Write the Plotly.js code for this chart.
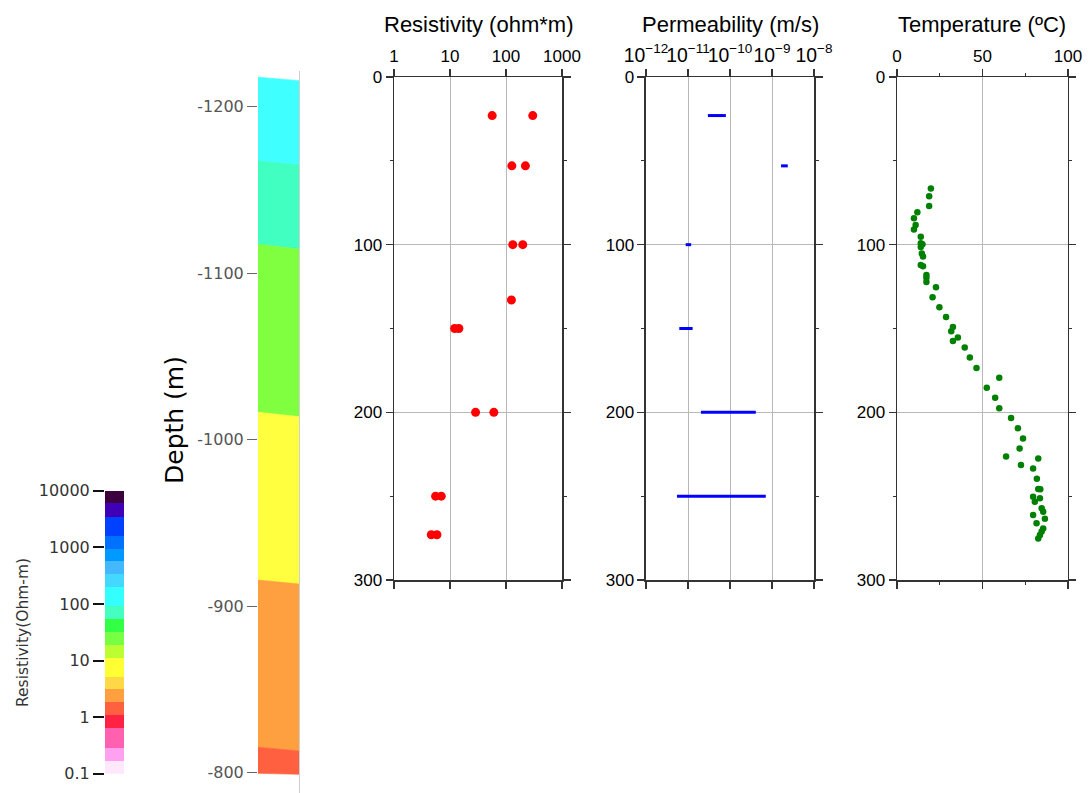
<!DOCTYPE html>
<html>
<head>
<meta charset="utf-8">
<script src="https://cdn.plot.ly/plotly-3.0.1.min.js"></script>
<style>html,body{margin:0;padding:0;background:#fff;}#chart{width:1089px;height:793px;}</style>
</head>
<body>
<div id="chart"></div>
<script>
// ---------- Data ----------
// Resistivity (ohm*m) vs depth (m)
const resDepth = [23, 23, 53, 53, 100, 100, 133, 150, 150, 200, 200, 250, 250, 273, 273];
const resValue = [56.6, 300, 127, 222, 132, 199, 125, 12.1, 14.4, 28.6, 60.6, 5.53, 6.98, 4.63, 5.84];

// Permeability (m/s) ranges vs depth (m)
const permDepth = [23, 53, 100, 150, 200, 250];
const permMin = [2.97e-11, 1.64e-9, 8.8e-12, 6.2e-12, 2.03e-11, 5.46e-12];
const permMax = [7.96e-11, 2.37e-9, 1.19e-11, 1.29e-11, 4.11e-10, 7.1e-10];

// Temperature (ºC) vs depth (m)
const tempDepth = [66.5, 71.1, 76.9, 80.7, 84.3, 88.2, 90.9, 95.3, 99.1, 99.7, 101.4, 105.2, 107.0, 112.1, 112.9,
  118.1, 119.8, 122.3, 125.4, 131.3, 137.4, 143.2, 149.1, 151.6, 155.3, 157.4, 161.4, 167.3, 173.5, 179.4,
  185.4, 191.3, 197.6, 203.4, 209.5, 215.6, 221.6, 226.4, 227.5, 231.4, 233.5, 239.6, 245.7, 245.9, 250.3,
  251.3, 253.4, 257.2, 259.3, 261.2, 263.4, 266.2, 269.3, 271.0, 273.1, 275.3];
const tempValue = [19.8, 18.8, 18.8, 11.9, 9.9, 10.9, 9.9, 13.9, 13.9, 14.9, 13.9, 14.5, 15.2, 13.9, 15.2,
  17.2, 17.2, 17.2, 22.8, 20.8, 24.8, 28.7, 32.7, 31.7, 35.6, 32.7, 39.6, 42.6, 46.5, 59.8,
  52.5, 57.4, 59.8, 66.7, 70.7, 73.7, 71.7, 63.8, 82.6, 72.5, 79.6, 81.8, 82.6, 83.8, 79.6,
  83.6, 80.6, 84.6, 85.5, 79.6, 86.5, 81.6, 85.5, 84.6, 83.6, 82.6];

// Depth column layers (elevation in m), boundary at left and right edge of the column
const layerLeft  = [-1217.7, -1167.4, -1117.4, -1016.5, -915.7, -815.3, -799.6];
const layerRight = [-1215.6, -1165.0, -1114.5, -1013.8, -913.3, -813.0, -799.0];
const layerColors = ['#40ffff', '#40ffc0', '#80ff40', '#ffff40', '#ffa040', '#ff6040'];
const depthTickVals = [-1200, -1100, -1000, -900, -800];
const depthTickText = ['-1200', '-1100', '-1000', '-900', '-800'];

// Resistivity colour scale (Ohm-m), class edges and colours
const cbEdges = [0.1, 0.169, 0.287, 0.632, 1.10, 1.82, 3.10, 5.07, 11.0, 18.45, 31.8, 55.0, 91.0,
  199.5, 338, 566, 946, 1603, 3404, 6000, 10000];
const cbColors = ['#ffe8fc', '#ffa0f0', '#ff60b0', '#ff2244', '#ff6040', '#ffa040', '#ffd845', '#ffff33',
  '#bbff33', '#77ff44', '#33ff44', '#44ffc0', '#33ffff', '#44d8ff', '#44b8ff', '#0099ff', '#0070ff',
  '#0040ff', '#4000b8', '#3d003f'];
const cbTickVals = [0.1, 1, 10, 100, 1000, 10000];
const cbTickText = ['0.1', '1', '10', '100', '1000', '10000'];

// ---------- Traces ----------
const traces = [];

traces.push({
  type: 'scatter', mode: 'markers', x: resValue, y: resDepth, xaxis: 'x', yaxis: 'y',
  marker: {color: '#ff0000', size: 9}, hoverinfo: 'skip', showlegend: false
});

const px = [], py = [];
permDepth.forEach((d, i) => { px.push(permMin[i], permMax[i], null); py.push(d, d, null); });
traces.push({
  type: 'scatter', mode: 'lines', x: px, y: py, xaxis: 'x2', yaxis: 'y2',
  line: {color: '#0000ff', width: 3}, connectgaps: false, hoverinfo: 'skip', showlegend: false
});

traces.push({
  type: 'scatter', mode: 'markers', x: tempValue, y: tempDepth, xaxis: 'x3', yaxis: 'y3',
  marker: {color: '#008000', size: 6.5}, hoverinfo: 'skip', showlegend: false
});

// colour scale bar
const cbBase = cbEdges.slice(0, -1);
const cbLen = cbBase.map((b, i) => cbEdges[i + 1] - b);
traces.push({
  type: 'bar', x: cbBase.map(() => 0), y: cbLen, base: cbBase, width: 1,
  xaxis: 'x4', yaxis: 'y4', marker: {color: cbColors, line: {width: 0}},
  hoverinfo: 'skip', showlegend: false
});

// depth column
for (let i = 0; i < layerColors.length; i++) {
  traces.push({
    type: 'scatter', mode: 'lines', fill: 'toself',
    x: [0, 1, 1, 0, 0],
    y: [layerLeft[i], layerRight[i], layerRight[i + 1], layerLeft[i + 1], layerLeft[i]],
    xaxis: 'x5', yaxis: 'y5', fillcolor: layerColors[i],
    line: {color: layerColors[i], width: 0.6}, hoverinfo: 'skip', showlegend: false
  });
}
traces.push({type: 'scatter', x: [], y: [], xaxis: 'x5', yaxis: 'y6', showlegend: false, hoverinfo: 'skip'});

// ---------- Layout ----------
const tickFont = {family: 'Liberation Sans, Arial, sans-serif', size: 17, color: '#000'};
const frame = '#333';
function dataX(extra) {
  return Object.assign({
    side: 'top', showline: true, linecolor: frame, linewidth: 1.5, mirror: 'allticks',
    ticks: 'outside', ticklen: 7, tickwidth: 1.5, tickcolor: frame, tickangle: 0,
    showgrid: true, gridcolor: '#b8b8b8', gridwidth: 1, zeroline: false, tickfont: tickFont, fixedrange: true
  }, extra);
}
function dataY(anchor) {
  return {
    anchor: anchor, domain: [0.2686, 0.9029], range: [300, 0], dtick: 100, tick0: 0,
    showline: true, linecolor: frame, linewidth: 1.5, mirror: 'allticks',
    ticks: 'outside', ticklen: 7, tickwidth: 1.5, tickcolor: frame,
    minor: {dtick: 50, tick0: 0, ticks: 'outside', ticklen: 3, tickwidth: 1.2, tickcolor: frame, showgrid: false},
    showgrid: true, gridcolor: '#b8b8b8', gridwidth: 1, zeroline: false, tickfont: tickFont, fixedrange: true
  };
}

const layout = {
  width: 1089, height: 793, margin: {l: 0, r: 0, t: 0, b: 0},
  paper_bgcolor: '#ffffff', plot_bgcolor: 'rgba(0,0,0,0)', showlegend: false,
  barmode: 'overlay', bargap: 0,
  xaxis: dataX({anchor: 'y', domain: [0.3618, 0.5161], type: 'log', range: [0, 3], dtick: 1, exponentformat: 'none'}),
  yaxis: dataY('x'),
  xaxis2: dataX({anchor: 'y2', domain: [0.5932, 0.7475], type: 'log', range: [-12, -8], dtick: 1, exponentformat: 'power',
    tickfont: {family: 'Liberation Sans, Arial, sans-serif', size: 15.5, color: '#000'}}),
  yaxis2: dataY('x2'),
  xaxis3: dataX({anchor: 'y3', domain: [0.8237, 0.9807], range: [0, 100], dtick: 50, tick0: 0,
    minor: {dtick: 25, tick0: 0, ticks: 'outside', ticklen: 3, tickwidth: 1.2, tickcolor: frame, showgrid: false}}),
  yaxis3: dataY('x3'),
  xaxis4: {anchor: 'y4', domain: [0.0964, 0.1139], range: [-0.5, 0.5], visible: false, fixedrange: true},
  yaxis4: {anchor: 'x4', domain: [0.0243, 0.3812], type: 'log', range: [-1, 4],
    tickmode: 'array', tickvals: cbTickVals, ticktext: cbTickText,
    ticks: 'outside', ticklen: 11, tickwidth: 2, tickcolor: '#111', showline: false,
    showgrid: false, zeroline: false, tickfont: {family: 'DejaVu Sans, sans-serif', size: 16, color: '#333'}, fixedrange: true},
  xaxis5: {anchor: 'y5', domain: [0.2369, 0.2750], range: [0, 1], visible: false, fixedrange: true},
  yaxis5: {anchor: 'x5', domain: [0, 0.9105], range: [-787.8, -1221.4],
    tickmode: 'array', tickvals: depthTickVals, ticktext: depthTickText,
    ticks: 'outside', ticklen: 10, tickwidth: 1, tickcolor: '#666', showline: false,
    showgrid: false, zeroline: false, tickfont: {family: 'DejaVu Sans, sans-serif', size: 16, color: '#555'}, fixedrange: true},
  yaxis6: {overlaying: 'y5', anchor: 'x5', side: 'right', range: [-787.8, -1221.4],
    showline: true, linecolor: '#d0d0d0', linewidth: 1, ticks: '', showticklabels: false,
    showgrid: false, zeroline: false, fixedrange: true},
  annotations: [
    {text: 'Resistivity (ohm*m)', xref: 'x domain', x: 0.5, yref: 'paper', y: 0.9685, showarrow: false,
      xanchor: 'center', yanchor: 'middle', font: {family: 'Liberation Sans, Arial, sans-serif', size: 22, color: '#000'}},
    {text: 'Permeability (m/s)', xref: 'x2 domain', x: 0.5, yref: 'paper', y: 0.9685, showarrow: false,
      xanchor: 'center', yanchor: 'middle', font: {family: 'Liberation Sans, Arial, sans-serif', size: 22, color: '#000'}},
    {text: 'Temperature (ºC)', xref: 'x3 domain', x: 0.5, yref: 'paper', y: 0.9685, showarrow: false,
      xanchor: 'center', yanchor: 'middle', font: {family: 'Liberation Sans, Arial, sans-serif', size: 22, color: '#000'}},
    {text: 'Depth (m)', xref: 'paper', x: 0.1607, yref: 'paper', y: 0.4704, showarrow: false, textangle: -90,
      xanchor: 'center', yanchor: 'middle', font: {family: 'DejaVu Sans, sans-serif', size: 25, color: '#000'}},
    {text: 'Resistivity(Ohm-m)', xref: 'paper', x: 0.0211, yref: 'paper', y: 0.203, showarrow: false, textangle: -90,
      xanchor: 'center', yanchor: 'middle', font: {family: 'DejaVu Sans, sans-serif', size: 15.5, color: '#333'}}
  ]
};

Plotly.newPlot('chart', traces, layout, {displayModeBar: false, staticPlot: true});
</script>
</body>
</html>
